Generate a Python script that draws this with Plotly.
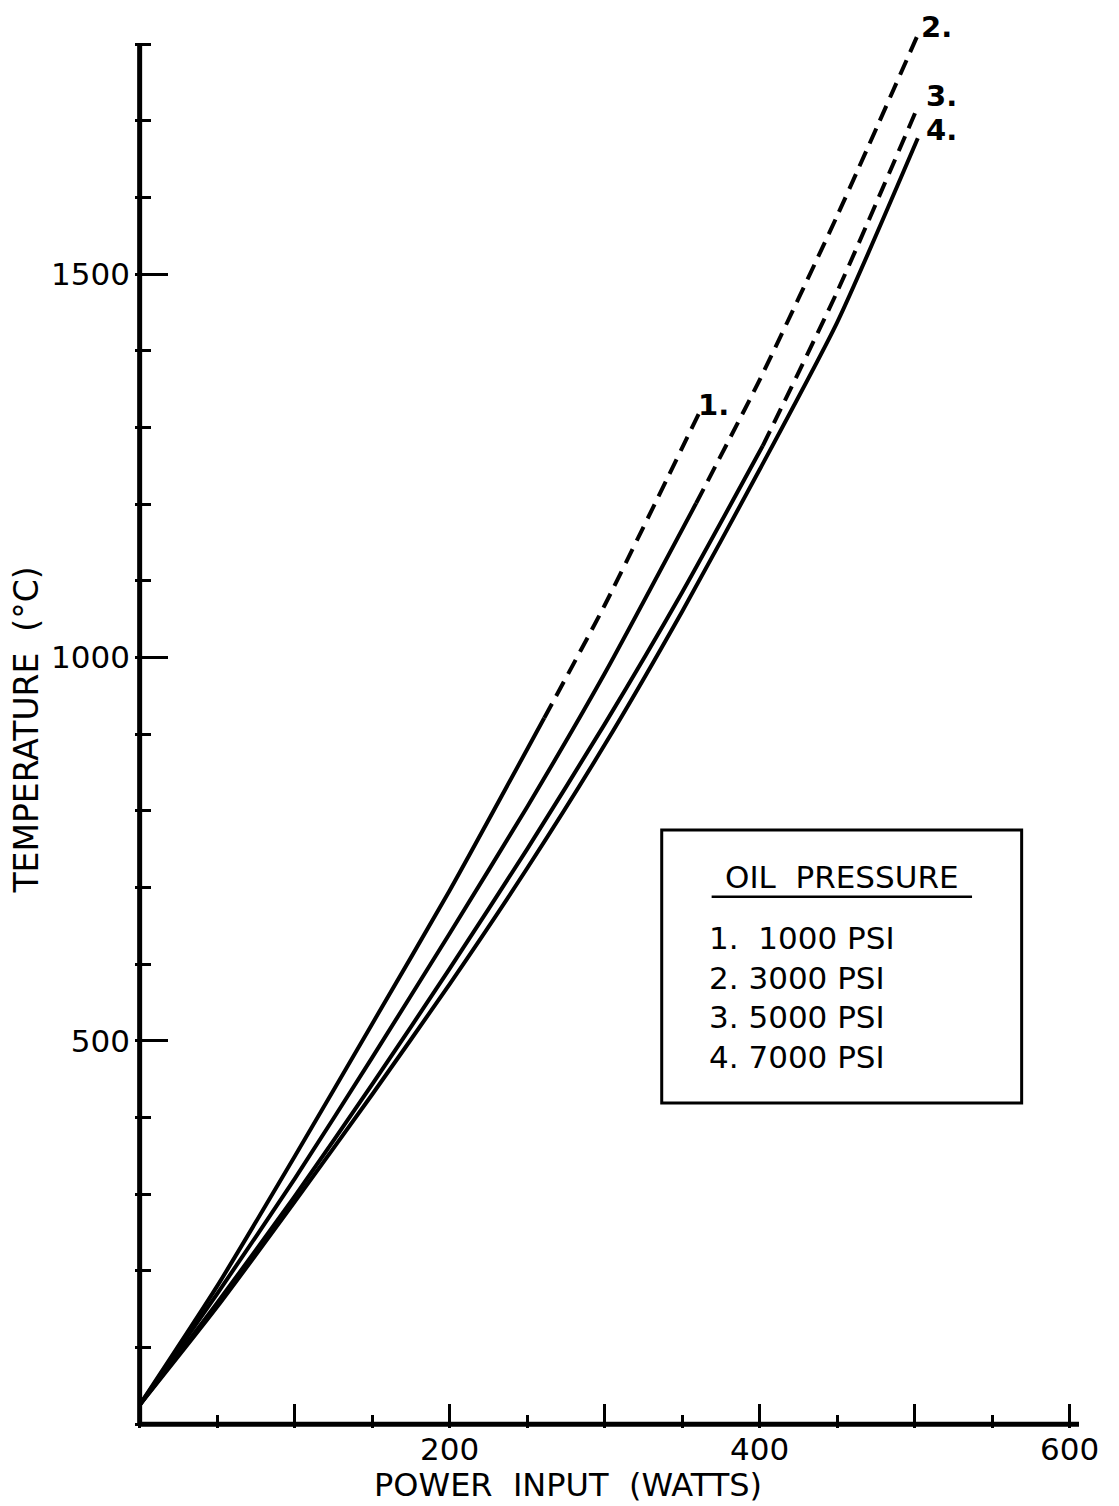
import plotly.graph_objects as go

# ---------------- data ----------------
# Curve 1: 1000 PSI
c1_solid_x = [0, 50, 100, 150, 200, 261]
c1_solid_y = [25, 180, 349, 522, 696, 921]
c1_dash_x = [261, 300, 361]
c1_dash_y = [921, 1068, 1319]

# Curve 2: 3000 PSI
c2_solid_x = [0, 50, 100, 150, 200, 250, 300, 359]
c2_solid_y = [25, 170, 320, 478, 640, 805, 979, 1201]
c2_dash_x = [359, 400, 450, 502]
c2_dash_y = [1201, 1362, 1576, 1812]

# Curve 3: 5000 PSI
c3_solid_x = [0, 50, 100, 150, 200, 250, 300, 350, 402]
c3_solid_y = [25, 158, 297, 443, 594, 750, 913, 1085, 1276]
c3_dash_x = [402, 450, 502]
c3_dash_y = [1276, 1477, 1718]

# Curve 4: 7000 PSI
c4_solid_x = [0, 50, 100, 150, 200, 250, 300, 350, 400, 450, 502]
c4_solid_y = [25, 153, 290, 430, 574, 725, 886, 1060, 1245, 1437, 1677]

curve_labels = ["1.", "2.", "3.", "4."]
legend_title = "OIL  PRESSURE"
legend_items = ["1.  1000 PSI", "2. 3000 PSI", "3. 5000 PSI", "4. 7000 PSI"]

x_major_ticks = [100, 200, 300, 400, 500, 600]
x_major_text = ["", "200", "", "400", "", "600"]
y_major_ticks = [500, 1000, 1500]
y_major_text = ["500", "1000", "1500"]

FONT = "DejaVu Sans"
LW = 4
DASH = "16px,9px"

fig = go.Figure()

def add(x, y, dash=None):
    fig.add_trace(go.Scatter(
        x=x, y=y, mode="lines",
        line=dict(color="black", width=LW, shape="spline", smoothing=0.6,
                  dash=dash if dash else "solid"),
        showlegend=False, hoverinfo="skip"))

add(c1_solid_x, c1_solid_y)
add(c1_dash_x, c1_dash_y, DASH)
add(c2_solid_x, c2_solid_y)
add(c2_dash_x, c2_dash_y, DASH)
add(c3_solid_x, c3_solid_y)
add(c3_dash_x, c3_dash_y, DASH)
add(c4_solid_x, c4_solid_y)

shapes = [
    dict(type="line", xref="x", yref="y", x0=0, y0=0, x1=0, y1=1800,
         line=dict(color="black", width=5)),
    dict(type="line", xref="x", yref="y", x0=0, y0=0, x1=606, y1=0,
         line=dict(color="black", width=5)),
    dict(type="rect", xref="x", yref="y", x0=336.8, y0=419, x1=569, y1=775,
         line=dict(color="black", width=3), fillcolor="rgba(0,0,0,0)"),
    dict(type="line", xref="x", yref="y", x0=369, y0=687.7, x1=537, y1=687.7,
         line=dict(color="black", width=2.5)),
]

annotations = []
label_pos = [(370, 1329), (514, 1822), (517, 1732), (517, 1688)]
for t, (lx, ly) in zip(curve_labels, label_pos):
    annotations.append(dict(x=lx, y=ly, xref="x", yref="y", text="<b>" + t + "</b>",
                            showarrow=False, font=dict(family=FONT, size=29, color="black")))
annotations.append(dict(x=453, y=713.8, xref="x", yref="y", text=legend_title,
                        showarrow=False, font=dict(family=FONT, size=31, color="black")))
item_y = [634.3, 582.1, 531.3, 479.2]
for t, iy in zip(legend_items, item_y):
    annotations.append(dict(x=365.8, y=iy, xref="x", yref="y", text=t, xanchor="left",
                            showarrow=False, font=dict(family=FONT, size=31, color="black")))
annotations.append(dict(x=0.4583, y=-0.0403, xref="paper", yref="paper",
                        xanchor="center", yanchor="middle",
                        text="POWER  INPUT  (WATTS)", showarrow=False,
                        font=dict(family=FONT, size=32, color="black")))
annotations.append(dict(x=-0.1150, y=0.496, xref="paper", yref="paper",
                        xanchor="center", yanchor="middle",
                        text="TEMPERATURE  (°C)", textangle=-90, showarrow=False,
                        font=dict(family=FONT, size=33, color="black")))

fig.update_layout(
    width=1119, height=1506,
    margin=dict(l=135.35, r=39.6, t=20.9, b=77.7, pad=0),
    paper_bgcolor="white", plot_bgcolor="white",
    shapes=shapes, annotations=annotations,
    xaxis=dict(range=[-3, 606], showgrid=False, zeroline=False, showline=False,
               tickmode="array", tickvals=x_major_ticks, ticktext=x_major_text,
               ticks="inside", ticklen=24, tickwidth=3, tickcolor="black",
               tickfont=dict(family=FONT, size=31, color="black"),
               minor=dict(tickmode="linear", tick0=0, dtick=50, ticks="inside",
                          ticklen=13, tickwidth=3, tickcolor="black", showgrid=False)),
    yaxis=dict(range=[-5, 1830], showgrid=False, zeroline=False, showline=False,
               tickmode="array", tickvals=y_major_ticks, ticktext=y_major_text,
               ticks="inside", ticklen=33, tickwidth=3, tickcolor="black",
               ticklabelstandoff=4,
               tickfont=dict(family=FONT, size=31, color="black"),
               minor=dict(tickmode="linear", tick0=0, dtick=100, ticks="inside",
                          ticklen=16, tickwidth=3, tickcolor="black", showgrid=False)),
)

fig.write_html("out.html")
